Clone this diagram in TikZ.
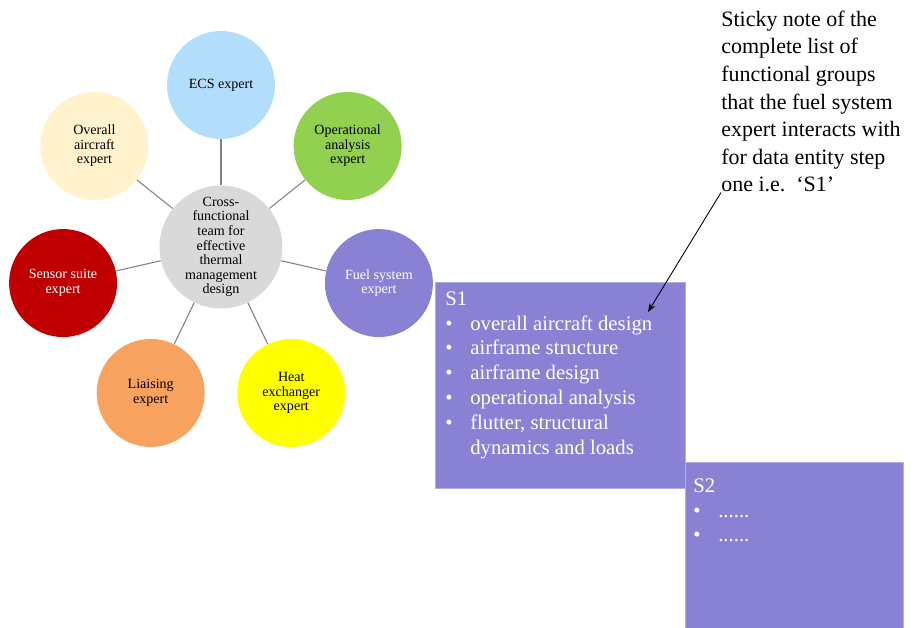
\documentclass[tikz,border=0pt]{standalone}
\usepackage{fontspec}
\setmainfont{Liberation Serif}
\usetikzlibrary{arrows.meta}

\definecolor{ecsblue}{RGB}{179,222,251}
\definecolor{overallcream}{RGB}{255,242,204}
\definecolor{opgreen}{RGB}{146,208,80}
\definecolor{fuelpurple}{RGB}{137,130,212}
\definecolor{sensorred}{RGB}{192,0,0}
\definecolor{liaiseorange}{RGB}{247,163,95}
\definecolor{heatyellow}{RGB}{255,255,0}
\definecolor{hubgray}{RGB}{217,217,217}
\definecolor{boxedge}{RGB}{178,172,232}

\newcommand{\bul}{\makebox[14.2pt][l]{\textbullet}}

\begin{document}
\begin{tikzpicture}[
    expert/.style={circle, minimum size=2.16cm, inner sep=0pt, align=center,
        font=\fontsize{8}{8.3}\selectfont},
    hubnode/.style={circle, fill=hubgray, minimum size=2.4cm, inner sep=0pt, align=center,
        font=\fontsize{8}{8.3}\selectfont},
    spoke/.style={draw=gray, line width=0.6pt},
    stickybox/.style={rectangle, fill=fuelpurple, draw=boxedge, line width=0.4pt, inner sep=0pt},
    stickytext/.style={anchor=north west, inner sep=0pt, align=left, text=white,
        font=\fontsize{11.8}{14.2}\selectfont},
]
    \useasboundingbox (-4.42,-7.62) rectangle (13.88,4.94);

    % Nœud central de l'équipe
    \node[hubnode] (hub) at (0,0) {Cross-\\functional\\team for\\effective\\thermal\\management\\design};

    % Experts autour de l'équipe
    \node[expert, fill=ecsblue] (ecs) at (90:3.24) {ECS expert};
    \node[expert, fill=opgreen] (oper) at (38.57:3.24) {Operational\\analysis\\expert};
    \node[expert, fill=fuelpurple, text=white] (fuel) at (-12.86:3.24) {Fuel system\\expert};
    \node[expert, fill=heatyellow] (heat) at (-64.29:3.24) {Heat\\exchanger\\expert};
    \node[expert, fill=liaiseorange] (liaise) at (-115.71:3.24) {Liaising\\expert};
    \node[expert, fill=sensorred, text=white] (sensor) at (192.86:3.24) {Sensor suite\\expert};
    \node[expert, fill=overallcream] (overall) at (141.43:3.24) {Overall\\aircraft\\expert};

    % Liaisons vers le centre
    \draw[spoke] (hub) -- (ecs);
    \draw[spoke] (hub) -- (oper);
    \draw[spoke] (hub) -- (fuel);
    \draw[spoke] (hub) -- (heat);
    \draw[spoke] (hub) -- (liaise);
    \draw[spoke] (hub) -- (sensor);
    \draw[spoke] (hub) -- (overall);

    % Notes S1 et S2
    \node[stickybox, anchor=north west, minimum width=4.36cm, minimum height=3.32cm] (s2) at (9.28,-4.30) {};
    \node[stickybox, anchor=north west, minimum width=5.0cm, minimum height=4.12cm] (s1) at (4.28,-0.70) {};
    \node[stickytext] (s1txt) at (4.48,-0.88) {S1\\
        \bul overall aircraft design\\
        \bul airframe structure\\
        \bul airframe design\\
        \bul operational analysis\\
        \bul flutter, structural\\
        \hspace*{14.2pt}dynamics and loads};
    \node[stickytext] (s2txt) at (9.44,-4.62) {S2\\
        \bul ......\\
        \bul ......};

    % Commentaire et flèche
    \node[anchor=north west, inner sep=0pt, align=left, font=\fontsize{12.5}{15.7}\selectfont] (note) at (10.00,4.73)
        {Sticky note of the\\complete list of\\functional groups\\that the fuel system\\expert interacts with\\for data entity step\\one i.e.\ \ `S1'};
    \coordinate (tip) at (8.54,-1.30);
    \draw[-{Stealth[length=5pt]}, line width=0.5pt] (note.south west) -- (tip);

\end{tikzpicture}
\end{document}
